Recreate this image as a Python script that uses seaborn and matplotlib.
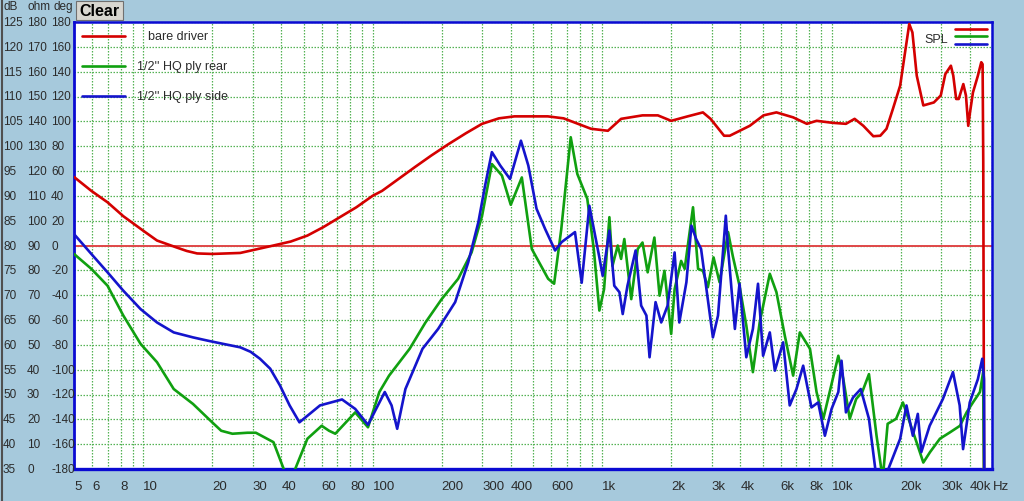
"""
SPL plot: bare driver vs. two 1/2'' HQ ply panel positions.
"""

import matplotlib
matplotlib.use("Agg")
import matplotlib.pyplot as plt
import matplotlib.transforms as mtransforms
from matplotlib.lines import Line2D
from matplotlib.patches import Rectangle
from matplotlib.ticker import LogLocator, FixedLocator, NullFormatter
import numpy as np
import pandas as pd
import seaborn as sns

# ---- data (Hz, dB) ----
bare_freq = [5, 5.95, 7, 8.2, 10, 11.5, 14, 15.5, 17.2, 20, 26.5, 37, 44, 52, 61, 72, 85, 100,
             110, 153, 180, 214, 255, 300, 355, 415, 580, 680, 785, 895, 1060, 1210, 1500,
             1750, 2000, 2360, 2750, 2970, 3400, 3600, 4400, 5050, 5750, 6800, 7800, 8600,
             10100, 11550, 12600, 13750, 15200, 16300, 17350, 18500, 19900, 20900, 21800,
             22500, 23500, 25100, 27900, 29900, 31300, 33100, 33900, 34900, 35800, 37500,
             38500, 39400, 40100, 41300, 43400, 44900, 45500, 45800, 46200]
bare_db = [93.8, 91, 88.7, 85.9, 83, 81, 79.6, 78.9, 78.4, 78.3, 78.5, 80, 80.8, 82, 83.7,
           85.7, 87.7, 90, 91, 95.8, 98.1, 100.4, 102.6, 104.5, 105.6, 106, 106, 105.6, 104.5,
           103.5, 103.1, 105.5, 106.2, 106.2, 105.1, 106, 106.8, 105.5, 102.1, 102.1, 104.1,
           106.2, 106.8, 105.8, 104.5, 105.1, 104.7, 104.5, 105.5, 104.1, 102, 102.1, 103.5,
           107.5, 112.2, 118.9, 124.6, 122.9, 114.2, 108.2, 108.8, 110.2, 114.5, 116.2, 114.2,
           109.5, 109.5, 112.5, 110.2, 104.1, 106.8, 110.8, 114.2, 116.9, 116.5, 96.8, 30]

rear_freq = [5, 5.95, 7, 8.2, 9.75, 11.5, 13.6, 16.5, 20, 21.9, 24.5, 28.5, 31, 37, 41, 43.5,
             46, 52, 60, 64.6, 68.8, 84, 95.5, 107, 118, 145, 170, 200, 236, 270, 300, 331,
             366, 400, 447, 494, 582, 618, 664, 730, 780, 862, 920,
             973, 1020, 1076, 1110, 1170, 1210, 1250, 1340, 1430, 1500, 1580, 1690, 1780,
             1870, 2000, 2070, 2210, 2290, 2490, 2620, 2750, 2890, 3060, 3250, 3540, 3710,
             3970, 4250, 4540, 4860, 5380, 5750, 6250, 6800, 7270, 8050, 8600, 9200, 10200,
             10700, 11250, 12000, 12800, 13600, 14550, 15700, 16700, 17550, 19100, 20450,
             21900, 23450, 25100, 26850, 29650, 32850, 36250, 38750, 41300, 44300, 45750,
             46200]
rear_db = [78.3, 75.3, 71.9, 65.9, 60.2, 56.5, 51.1, 48.1, 44.4, 42.7, 42.1, 42.3, 42.3,
           40.4, 35, 33, 35, 41.1, 43.7, 42.7, 42.1, 46.4, 43.4, 50.5, 53.8, 59.2, 64.5, 69.2,
           73.3, 78.6, 86, 96.4, 94.1, 88.2, 93.7, 79.3, 73.3, 72.3, 83.3, 101.8, 94.4, 89.4,
           79.3,
           66.9, 71.2, 85.7, 75.9, 80, 77.3, 81.3, 69.2, 79.3, 80.6, 74.6, 81.6, 69.9, 74.9,
           62.2, 71.2, 76.9, 75.3, 87.7, 75.3, 74.9, 71.6, 77.6, 72.6, 82.7, 77.9, 71.9, 63.9,
           54.5, 64.5, 74.3, 70.6, 61.9, 53.8, 62.5, 59.2, 50.5, 45.1, 53.8, 57.8, 53.1, 45.1,
           49.1, 50.5, 54.1, 41.7, 33, 44.1, 45.1, 48.4, 44.4, 40.4, 36.3, 38.4, 41.1, 42.4,
           43.7, 46.4, 48.4, 50.5, 54.5, 30]

side_freq = [5, 5.95, 7, 8.2, 9.75, 11.5, 13.6, 16.5, 19.3, 22.3, 26.5, 29.4, 32.3, 35.8,
             39.5, 43.5, 48, 59, 73.6, 84, 95.5, 113, 121, 128, 139, 165, 193, 229, 261, 289,
             309, 331, 360, 397, 443, 477, 518, 565, 624, 667, 713, 762, 815, 880,
             973, 1006, 1076, 1130, 1190, 1230, 1290, 1400, 1480, 1560, 1610, 1710, 1810,
             1930, 2070, 2170, 2330, 2450, 2570, 2700, 3040, 3200, 3460, 3540, 3790, 3970,
             4250, 4540, 4780, 5030, 5380, 5660, 6150, 6570, 7030, 7520, 8170, 8740, 9350,
             10000, 10700, 11050, 11550, 12400, 13400, 14550, 15700, 17000, 19900, 21200,
             22600, 23750, 24600, 26750, 30550, 33800, 36150, 37400, 40000, 43400, 45350,
             46150, 46300]
side_db = [82.3, 78.3, 74.6, 70.9, 67.2, 64.5, 62.5, 61.5, 60.8, 60.2, 59.5, 58.6, 57.2,
           55.2, 51.8, 47.8, 44.4, 47.8, 49, 47.1, 43.9, 50.5, 47.8, 43.1, 51.1, 59.2, 63.2,
           68.6, 76.6, 84.7, 92, 98.8, 96.1, 93.4, 101.1, 96.1, 87.4, 83.3, 79, 80.7, 81.7,
           82.7, 72.5, 88,
           77.6, 73.9, 83, 71.9, 70.6, 66.2, 71.9, 79, 67.9, 65.9, 57.5, 68.6, 64.5, 67.9,
           78.6, 64.5, 72.6, 84, 81.3, 79.3, 61.5, 65.9, 86, 79.3, 63.2, 72.3, 57.5, 63.2,
           72.3, 57.8, 62.5, 54.8, 60.5, 47.8, 51.1, 55.8, 47.4, 48.4, 41.7, 47.1, 50.5, 56.8,
           46.4, 49.4, 51.1, 45.1, 33, 33, 41.1, 47.8, 41.7, 46.1, 38.4, 43.7, 49.1, 54.5,
           47.8, 39, 48.4, 53.1, 57.2, 53.1, 30]

curve_names = ["bare driver", "1/2'' HQ ply rear", "1/2'' HQ ply side"]
curve_colors = ["#d40000", "#10a010", "#1414cc"]

db_labels = list(range(35, 130, 5))
ohm_labels = list(range(0, 190, 10))
deg_labels = list(range(-180, 200, 20))

freq_ticks = [5, 6, 8, 10, 20, 30, 40, 60, 80, 100, 200, 300, 400, 600,
              1000, 2000, 3000, 4000, 6000, 8000, 10000, 20000, 30000, 40000]
freq_tick_labels = ["5", "6", "8", "10", "20", "30", "40", "60", "80", "100", "200", "300",
                    "400", "600", "1k", "2k", "3k", "4k", "6k", "8k", "10k", "20k", "30k", "40k"]

# ---- style ----
sns.set_theme(style="white")
plt.rcParams['font.family'] = ['Liberation Sans', 'DejaVu Sans']

BG = "#a6c9dc"
TXT = "#2b2b2b"
GRID = "#55b255"
SPINE = "#0a0ad2"

W, H = 1024, 502
fig = plt.figure(figsize=(W / 100, H / 100), dpi=100, facecolor=BG)
ax = fig.add_axes([74 / W, 32 / H, 918 / W, 447 / H])
ax.set_facecolor("white")
ax.set_xscale("log")

df = pd.concat([
    pd.DataFrame({"freq": f, "db": d, "curve": n})
    for n, f, d in zip(curve_names, [bare_freq, rear_freq, side_freq], [bare_db, rear_db, side_db])
])
ax.axhline(80, color="#e04848", lw=1.4, zorder=2)
sns.lineplot(data=df, x="freq", y="db", hue="curve", hue_order=curve_names,
             palette=dict(zip(curve_names, curve_colors)), sort=False, estimator=None,
             lw=1.9, legend=False, ax=ax, zorder=3)

ax.set_xlim(5, 50000)
ax.set_ylim(35, 125)
ax.set_xlabel("")
ax.set_ylabel("")

# grid
ax.xaxis.set_major_locator(FixedLocator(freq_ticks))
ax.xaxis.set_minor_locator(LogLocator(base=10, subs=np.arange(1, 10), numticks=40))
ax.xaxis.set_major_formatter(NullFormatter())
ax.xaxis.set_minor_formatter(NullFormatter())
ax.set_yticks(db_labels)
ax.set_yticklabels([])
ax.tick_params(which="both", length=0)
ax.grid(True, which="both", color=GRID, lw=0.9, ls=(0, (1.2, 1.2)), zorder=1)

for side, lw in [("left", 2.0), ("bottom", 2.4), ("top", 1.8), ("right", 1.8)]:
    ax.spines[side].set_color(SPINE)
    ax.spines[side].set_linewidth(lw)
    ax.spines[side].set_visible(True)

# frequency labels, left-aligned at each grid line
xtrans = mtransforms.blended_transform_factory(ax.transData, fig.transFigure)
for f, lbl in zip(freq_ticks, freq_tick_labels):
    ax.text(f, 1 - 487 / H, lbl, transform=xtrans, ha="left", va="center",
            fontsize=9.5, color=TXT)
fig.text(993 / W, 1 - 487 / H, "Hz", ha="left", va="center", fontsize=9.5, color=TXT)

# three-column left scale: dB / ohm / deg
ytrans = mtransforms.blended_transform_factory(fig.transFigure, ax.transData)
for d, o, g in zip(db_labels, ohm_labels, deg_labels):
    ax.text(3 / W, d, str(d), transform=ytrans, ha="left", va="center", fontsize=8.5, color=TXT)
    ax.text(27 / W, d, str(o), transform=ytrans, ha="left", va="center", fontsize=8.5, color=TXT)
    ax.text(51 / W, d, str(g), transform=ytrans, ha="left", va="center", fontsize=8.5, color=TXT)
for x, s in [(3, "dB"), (27, "ohm"), (53, "deg")]:
    fig.text(x / W, 1 - 7 / H, s, ha="left", va="center", fontsize=8.5, color=TXT)

# window edge + Clear button
fig.add_artist(Line2D([2 / W, 2 / W], [0, 1], transform=fig.transFigure, color="#505050", lw=1.5))
fig.add_artist(Rectangle((76 / W, 1 - 21 / H), 47 / W, 19 / H, transform=fig.transFigure,
                         facecolor="#d8d6d0", edgecolor="#707070", lw=0.8))
fig.text(99.5 / W, 1 - 11.5 / H, "Clear", ha="center", va="center", fontsize=11.5,
         fontweight="bold", color="black")

# legend (top left)
for i, (name, col) in enumerate(zip(curve_names, curve_colors)):
    yy = [0.9687, 0.9016, 0.8345][i]
    ax.add_line(Line2D([0.0087, 0.0556], [yy, yy], transform=ax.transAxes, color=col,
                       lw=1.9, clip_on=False, zorder=5))
    tx = 0.0806 if i == 0 else 0.0686
    ax.text(tx, yy, name, transform=ax.transAxes, ha="left", va="center",
            fontsize=9, color=TXT, zorder=5)

# SPL key (top right)
ax.text(0.939, 0.962, "SPL", transform=ax.transAxes, ha="center", va="center",
        fontsize=9, color=TXT)
for yy, col in zip([0.984, 0.9687, 0.951], curve_colors):
    ax.add_line(Line2D([0.9597, 0.9946], [yy, yy], transform=ax.transAxes, color=col,
                       lw=1.9, clip_on=False, zorder=5))

fig.savefig("out.png", dpi=100, facecolor=BG)
print("saved out.png")
